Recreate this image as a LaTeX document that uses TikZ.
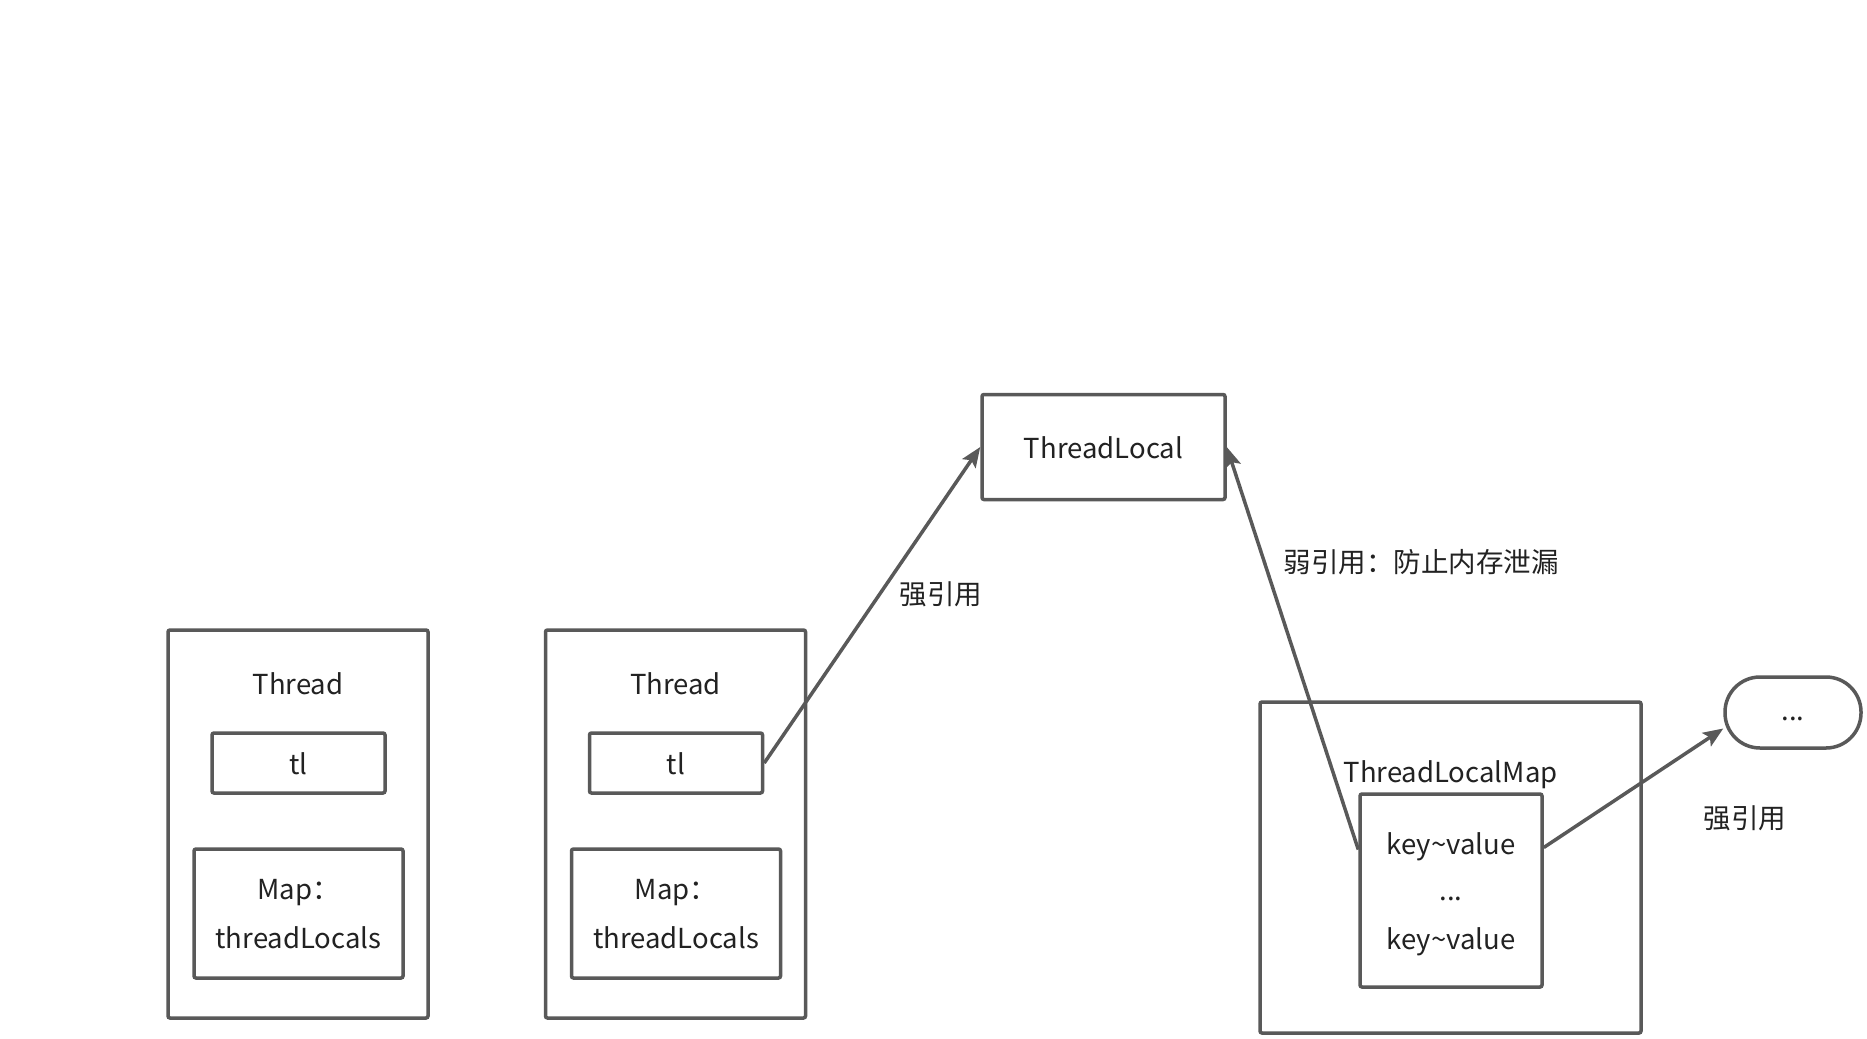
\documentclass[tikz,border=0pt]{standalone}
\usepackage{fontspec}
\setmainfont{Noto Sans CJK SC}
\usetikzlibrary{arrows.meta}
\definecolor{ln}{HTML}{595959}
\definecolor{tx}{HTML}{222222}
\tikzset{
  box/.style={draw=ln, line width=3.5pt, rounded corners=2pt, inner sep=0pt},
  lbl/.style={text=tx, font=\fontsize{27.5}{27.5}\selectfont, inner sep=0pt},
  arr/.style={draw=ln, line width=3.5pt, -{Stealth[length=20pt,width=16pt,inset=4pt]}},
}
\begin{document}
\begin{tikzpicture}[x=1pt,y=-1pt]
\useasboundingbox[fill=white] (0,0) rectangle (1867,1038);
% Thread 1
\node[box, minimum width=260pt, minimum height=388pt] (th1) at (298,824) {};
\node[lbl] (th1l) at (298,684) {Thread};
\node[box, minimum width=173pt, minimum height=60pt] (tl1) at (298.5,763) {};
\node[lbl] (tl1l) at (298.5,764) {tl};
\node[box, minimum width=209pt, minimum height=129pt] (map1) at (298.5,913.5) {};
\node[lbl] (map1a) at (298.5,893) {Map：};
\node[lbl] (map1b) at (298.5,938) {threadLocals};
% Thread 2
\node[box, minimum width=260pt, minimum height=388pt] (th2) at (675.5,824) {};
\node[lbl] (th2l) at (675.5,684) {Thread};
\node[box, minimum width=173pt, minimum height=60pt] (tl2) at (676,763) {};
\node[lbl] (tl2l) at (676,764) {tl};
\node[box, minimum width=209pt, minimum height=129pt] (map2) at (676,913.5) {};
\node[lbl] (map2a) at (676,893) {Map：};
\node[lbl] (map2b) at (676,938) {threadLocals};
% ThreadLocal
\node[box, minimum width=243pt, minimum height=105pt] (tl) at (1103.5,447) {};
\node[lbl] (tlt) at (1103.5,448) {ThreadLocal};
% ThreadLocalMap
\node[box, minimum width=381pt, minimum height=331pt] (tlm) at (1450.5,867.5) {};
\node[lbl] (tlml) at (1450.5,775) {ThreadLocalMap};
\node[box, minimum width=182pt, minimum height=193pt] (inner) at (1451,890.5) {};
\node[lbl] (kv1) at (1451,847) {key\char`~value};
\node[lbl] (kv2) at (1451,899) {...};
\node[lbl] (kv3) at (1451,942) {key\char`~value};
% ellipsis node
\node[box, rounded corners=35pt, minimum width=136pt, minimum height=71pt] (ell) at (1793,712.5) {};
\node[lbl] (ellt) at (1793,719) {...};
% arrows
\draw[arr] (tl2.east) -- (tl.west);
\draw[arr] ([yshift=41pt]inner.west) -- (tl.east);
\draw[arr] ([yshift=43pt]inner.east) -- ([yshift=-16pt]ell.west);
% labels
\node[lbl] (s1) at (941,594) {强引用};
\node[lbl] (w1) at (1421,562) {弱引用：防止内存泄漏};
\node[lbl] (s2) at (1745,818) {强引用};
\end{tikzpicture}
\end{document}
